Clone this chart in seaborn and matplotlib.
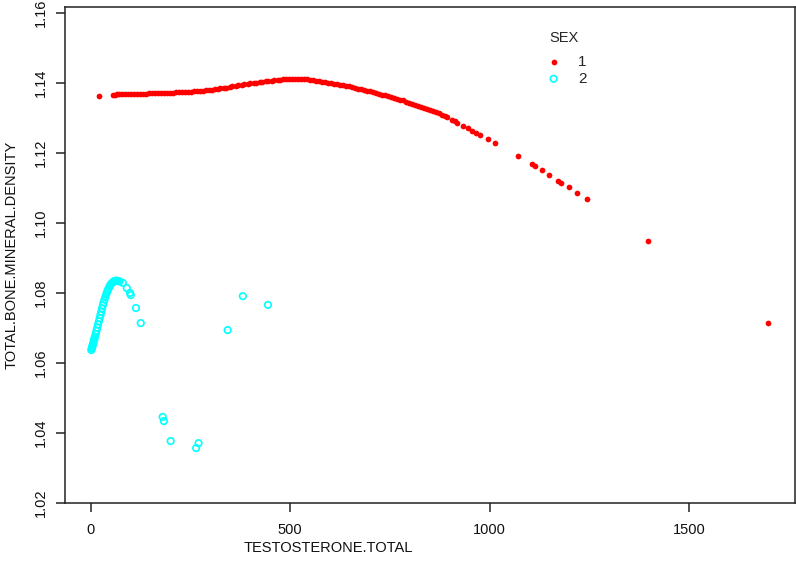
import matplotlib
matplotlib.use("Agg")
import matplotlib.pyplot as plt
import seaborn as sns
import pandas as pd

# SEX = 1 (filled red dots)
male_t = [20, 55, 60, 65, 70, 78, 85, 93, 100, 108, 115, 123, 130, 138, 145, 153,
          160, 168, 175, 183, 190, 198, 205, 213, 220, 228, 235, 243, 250, 258,
          265, 273, 280, 288, 295, 303, 310, 318, 325, 333, 340, 348, 355, 363,
          370, 378, 385, 393, 400, 408, 415, 423, 430, 438, 445, 453, 460, 468,
          475, 483, 490, 498, 505, 513, 520, 528, 535, 543, 550, 558, 565, 573,
          580, 588, 595, 603, 610, 618, 625, 633, 640, 648, 655, 663, 670, 678,
          685, 693, 700, 708, 715, 723, 730, 738, 745, 753, 760, 768, 775, 783,
          790, 798, 805, 813, 820, 828, 835, 843, 850, 858, 865, 873, 880, 887,
          893, 905, 912, 918, 933, 945, 955, 967, 976, 996, 1013, 1071, 1106,
          1114, 1131, 1149, 1171, 1179, 1199, 1219, 1244, 1397, 1698]
male_bmd = [1.1364, 1.1367, 1.1367, 1.1368, 1.1368, 1.1368, 1.1368, 1.1368, 1.1368,
            1.1368, 1.1369, 1.1369, 1.1369, 1.1369, 1.1370, 1.1370, 1.1370, 1.1371,
            1.1371, 1.1371, 1.1372, 1.1372, 1.1372, 1.1373, 1.1373, 1.1374, 1.1374,
            1.1375, 1.1375, 1.1376, 1.1377, 1.1377, 1.1378, 1.1379, 1.1380, 1.1381,
            1.1382, 1.1383, 1.1385, 1.1386, 1.1387, 1.1389, 1.1390, 1.1392, 1.1393,
            1.1395, 1.1396, 1.1398, 1.1399, 1.1400, 1.1401, 1.1403, 1.1404, 1.1405,
            1.1406, 1.1407, 1.1408, 1.1409, 1.1409, 1.1410, 1.1410, 1.1410, 1.1410,
            1.1410, 1.1410, 1.1410, 1.1410, 1.1410, 1.1409, 1.1408, 1.1407, 1.1406,
            1.1404, 1.1403, 1.1401, 1.1400, 1.1398, 1.1396, 1.1394, 1.1393, 1.1391,
            1.1390, 1.1388, 1.1386, 1.1384, 1.1382, 1.1380, 1.1378, 1.1376, 1.1374,
            1.1371, 1.1369, 1.1367, 1.1365, 1.1362, 1.1360, 1.1357, 1.1355, 1.1352,
            1.1350, 1.1347, 1.1344, 1.1341, 1.1338, 1.1335, 1.1332, 1.1329, 1.1326,
            1.1323, 1.1320, 1.1316, 1.1313, 1.1309, 1.1306, 1.1302, 1.1295, 1.1291,
            1.1287, 1.1277, 1.1270, 1.1263, 1.1256, 1.1251, 1.1240, 1.1229, 1.1191,
            1.1169, 1.1164, 1.1150, 1.1137, 1.1120, 1.1114, 1.1103, 1.1085, 1.1069,
            1.0949, 1.0714]

# SEX = 2 (open cyan circles)
female_t = [1, 2, 3, 4, 5, 6, 7, 8, 9, 10, 12, 14, 16, 18, 20, 22, 24, 26, 28, 30,
            32, 34, 36, 38, 40, 42, 44, 46, 48, 50, 53, 56, 59, 62, 65, 68, 72, 80,
            90, 98, 100, 113, 125, 180, 183, 200, 264, 270, 343, 381, 444]
female_bmd = [1.0637, 1.0641, 1.0645, 1.0649, 1.0653, 1.0657, 1.0662, 1.0666, 1.0670,
              1.0675, 1.0683, 1.0692, 1.0701, 1.0710, 1.0719, 1.0728, 1.0737, 1.0746,
              1.0756, 1.0765, 1.0773, 1.0781, 1.0788, 1.0795, 1.0801, 1.0807, 1.0812,
              1.0817, 1.0821, 1.0825, 1.0829, 1.0832, 1.0834, 1.0835, 1.0835, 1.0834,
              1.0833, 1.0829, 1.0814, 1.0800, 1.0794, 1.0757, 1.0714, 1.0446, 1.0434,
              1.0377, 1.0357, 1.0371, 1.0694, 1.0791, 1.0766]

sex_levels = ["1", "2"]
x_ticks = [0, 500, 1000, 1500]
y_ticks = [1.02, 1.04, 1.06, 1.08, 1.10, 1.12, 1.14, 1.16]

sns.set_style("ticks")
plt.rcParams["font.family"] = ["Liberation Sans", "DejaVu Sans"]

df_m = pd.DataFrame({"TESTOSTERONE.TOTAL": male_t, "TOTAL.BONE.MINERAL.DENSITY": male_bmd})
df_f = pd.DataFrame({"TESTOSTERONE.TOTAL": female_t, "TOTAL.BONE.MINERAL.DENSITY": female_bmd})

fig = plt.figure(figsize=(7.96, 5.67), dpi=100)
ax = fig.add_axes([65 / 796, 1 - 503 / 567, 730 / 796, 496 / 567])

sns.scatterplot(data=df_m, x="TESTOSTERONE.TOTAL", y="TOTAL.BONE.MINERAL.DENSITY",
                ax=ax, color="#FF0000", s=17, linewidth=0, marker="o", label=sex_levels[0])
sns.scatterplot(data=df_f, x="TESTOSTERONE.TOTAL", y="TOTAL.BONE.MINERAL.DENSITY",
                ax=ax, s=22, marker="o", facecolors="none", edgecolor="#00FFFF",
                linewidth=1.2, label=sex_levels[1])

ax.set_xlim(-65, 1766)
ax.set_ylim(1.02, 1.1617)
ax.set_xticks(x_ticks)
ax.set_xticklabels([str(v) for v in x_ticks])
ax.set_yticks(y_ticks)
ax.set_yticklabels([f"{v:.2f}" for v in y_ticks], rotation=90, va="center")

for sp in ax.spines.values():
    sp.set_visible(True)
    sp.set_color("#222222")
    sp.set_linewidth(1.1)

ax.tick_params(axis="both", direction="out", length=6.5, width=1.1, color="#222222",
               labelsize=10.5, pad=8, labelcolor="#111111")
ax.tick_params(axis="y", pad=6)
ax.set_xlabel("TESTOSTERONE.TOTAL", fontsize=10.5, color="#111111")
ax.xaxis.set_label_coords((328 - 65) / 730, -(548 - 503) / 496)
ax.xaxis.label.set_va("center")
ax.set_ylabel("TOTAL.BONE.MINERAL.DENSITY", fontsize=10.5, color="#111111", labelpad=11)

leg = ax.legend(title="SEX", frameon=False, loc="upper left",
                bbox_to_anchor=((549 - 65) / 730, (503 - 31) / 496),
                fontsize=11, title_fontsize=10.5, handlelength=0.6, handletextpad=1.3,
                labelspacing=0.2, alignment="left", borderaxespad=0, borderpad=0)
leg._legend_box.sep = 7

fig.savefig("out.png", dpi=100)
